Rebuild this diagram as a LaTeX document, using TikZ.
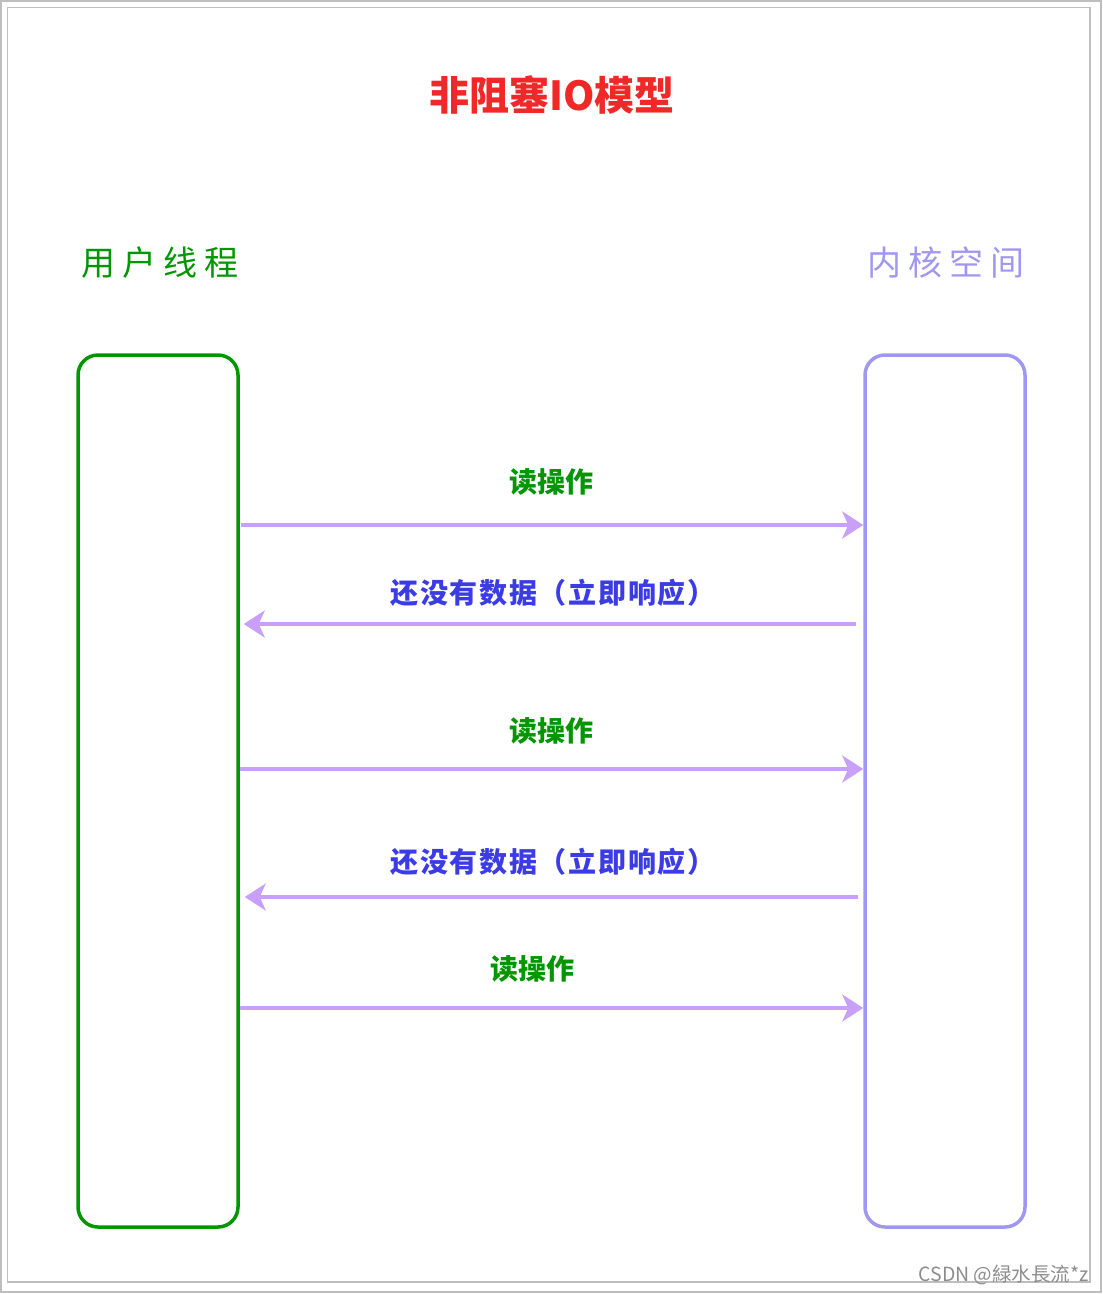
\documentclass[tikz,border=0pt]{standalone}
\usepackage{fontspec}
\newfontfamily\cjk{Noto Sans CJK SC}
\usetikzlibrary{arrows.meta}
\definecolor{boxgreen}{RGB}{0,150,0}
\definecolor{boxblue}{RGB}{160,152,240}
\definecolor{arrcol}{RGB}{200,160,250}
\definecolor{titlered}{RGB}{240,40,40}
\definecolor{txtblue}{RGB}{60,60,230}
\definecolor{framegray}{RGB}{190,190,190}
\begin{document}
\begin{tikzpicture}[x=1pt,y=-1pt,
  lane/.style={draw, line width=3.5pt, rounded corners=20pt, minimum width=160pt, minimum height=872pt, inner sep=0pt},
  arr/.style={draw=arrcol, line width=4pt, -{Stealth[length=21pt,width=27pt,inset=6pt]}},
  oplbl/.style={font=\cjk\bfseries\fontsize{28}{30}\selectfont, text=boxgreen, inner sep=0pt},
  replbl/.style={font=\cjk\bfseries\fontsize{28}{30}\selectfont\addfontfeature{LetterSpace=6}, text=txtblue, inner sep=0pt},
  head/.style={font=\cjk\fontsize{34}{36}\selectfont, inner sep=0pt},
  frame/.style={draw=framegray, line width=1.5pt}
]
\useasboundingbox (0,0) rectangle (1103,1294);
\draw[frame] (1,1) rectangle (1101,1292);
\draw[frame] (7.5,7.5) rectangle (1090,1282);

\node[font=\cjk\bfseries\fontsize{40}{44}\selectfont, text=titlered, inner sep=0pt] (title) at (552,95) {非阻塞IO模型};

\node[head, text=boxgreen] (hl) at (160,263) {用\hspace{7pt}户\hspace{7pt}线\hspace{7pt}程};
\node[head, text=boxblue] (hr) at (946,263) {内\hspace{7pt}核\hspace{7pt}空\hspace{7pt}间};

\node[lane, draw=boxgreen] (L) at (158,791) {};
\node[lane, draw=boxblue] (R) at (945,791) {};

\coordinate (y1) at (0,525);
\coordinate (y2) at (0,624);
\coordinate (y3) at (0,769);
\coordinate (y4) at (0,897);
\coordinate (y5) at (0,1008);

\draw[arr, shorten <=1pt] (L.east |- y1) -- (R.west |- y1);
\draw[arr, shorten <=7pt, shorten >=4pt] (R.west |- y2) -- (L.east |- y2);
\draw[arr] (L.east |- y3) -- (R.west |- y3);
\draw[arr, shorten <=5pt, shorten >=5pt] (R.west |- y4) -- (L.east |- y4);
\draw[arr] (L.east |- y5) -- (R.west |- y5);

\node[oplbl] (o1) at (551,482) {读操作};
\node[replbl] (r1) at (553,593) {还没有数据（立即响应）};
\node[oplbl] (o2) at (551,731) {读操作};
\node[replbl] (r2) at (553,862) {还没有数据（立即响应）};
\node[oplbl] (o3) at (532,969) {读操作};

\node[font=\cjk\fontsize{19.5}{21}\selectfont, text=black!45, anchor=east, inner sep=0pt] (wm) at (1089,1275) {CSDN @緑水長流*z};
\end{tikzpicture}
\end{document}
